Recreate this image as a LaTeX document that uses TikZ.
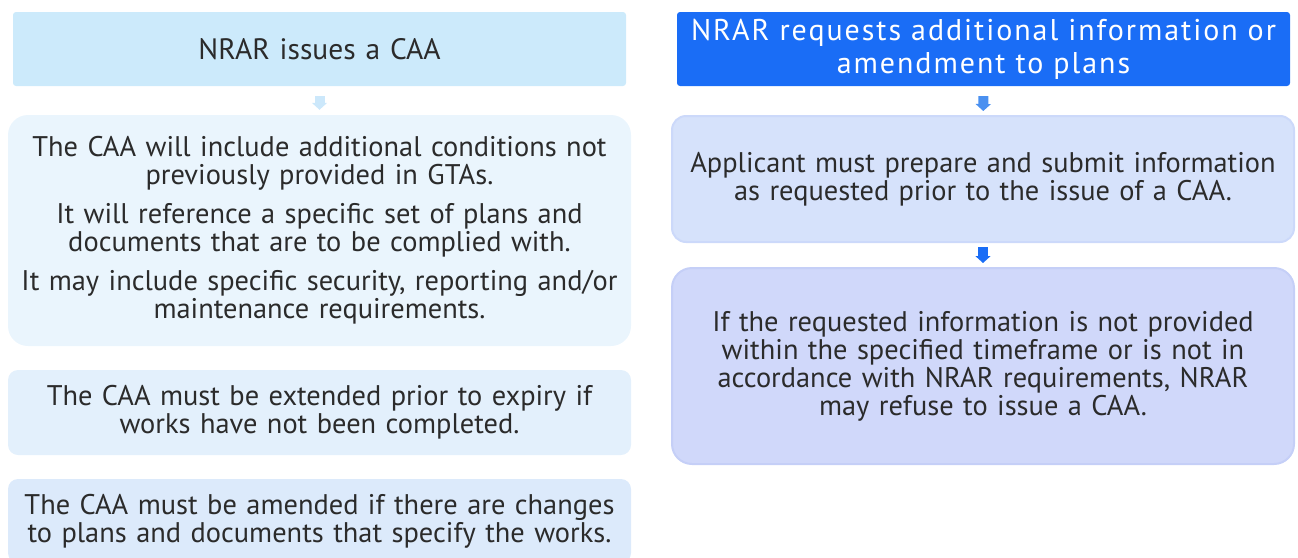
\documentclass[tikz,border=0pt]{standalone}
\usepackage{fontspec}
\setmainfont{PT Sans}
\usetikzlibrary{arrows.meta}
\definecolor{caahead}{HTML}{CCEAFB}
\definecolor{caabody}{HTML}{EAF5FD}
\definecolor{caaext}{HTML}{E3F0FC}
\definecolor{caaamend}{HTML}{DCEAFB}
\definecolor{reqhead}{HTML}{1A6DF6}
\definecolor{reqbody}{HTML}{D6E2FB}
\definecolor{reqbodyline}{HTML}{CCD9FA}
\definecolor{refbody}{HTML}{D0D8FA}
\definecolor{refbodyline}{HTML}{C5CFF7}
\definecolor{inktext}{HTML}{2B2B2B}
\definecolor{arrowlight}{HTML}{CCE8FB}
\definecolor{arrowmid}{HTML}{4A90F0}
\begin{document}
\begin{tikzpicture}[x=1pt, y=-1pt]
    \tikzstyle{box} = [align=center, text=inktext, inner sep=0pt,
                       font=\fontsize{28.4}{28}\selectfont]
    \tikzstyle{head} = [box, rounded corners=3pt, text width=610pt]
    \tikzstyle{flow} = [line width=10pt, -{Triangle[width=15pt,length=7pt]}]
    \useasboundingbox (0,0) rectangle (1298,557);
    \clip (0,0) rectangle (1298,557);
    \node[head, fill=caahead, minimum width=613pt, minimum height=74pt,
          font=\fontsize{29.5}{33}\selectfont]
        (issue) at (319.5,49) {NRAR issues a CAA};
    \node[box, fill=caabody, rounded corners=20pt, text width=620pt,
          minimum width=623pt, minimum height=231pt]
        (conditions) at (319.5,230.5)
        {The CAA will include additional conditions not\\ previously provided in GTAs.\\[11pt]
         It will reference a specific set of plans and\\ documents that are to be complied with.\\[11pt]
         It may include specific security, reporting and/or\\ maintenance requirements.};
    \node[box, fill=caaext, rounded corners=10pt, text width=620pt,
          minimum width=623pt, minimum height=85pt]
        (extend) at (319.5,412.5)
        {The CAA must be extended prior to expiry if\\ works have not been completed.};
    \node[box, fill=caaamend, rounded corners=10pt, text width=620pt,
          minimum width=623pt, minimum height=84pt]
        (amend) at (319.5,521)
        {The CAA must be amended if there are changes\\ to plans and documents that specify the works.};
    \node[head, fill=reqhead, text=white, minimum width=613pt, minimum height=74pt,
          font=\fontsize{30}{33}\selectfont\addfontfeatures{LetterSpace=6.5}]
        (request) at (983.5,49) {NRAR requests additional information or\\ amendment to plans};
    \node[box, fill=reqbody, draw=reqbodyline, line width=2pt, rounded corners=14pt,
          text width=618pt, minimum width=622pt, minimum height=126pt]
        (submit) at (983,179)
        {Applicant must prepare and submit information\\ as requested prior to the issue of a CAA.};
    \node[box, fill=refbody, draw=refbodyline, line width=2pt, rounded corners=20pt,
          text width=618pt, minimum width=622pt, minimum height=196pt]
        (refuse) at (983,366)
        {If the requested information is not provided\\ within the specified timeframe or is not in\\
         accordance with NRAR requirements, NRAR\\ may refuse to issue a CAA.};
    \draw[flow, arrowlight, shorten <=10pt, shorten >=5pt] (issue) -- (conditions);
    \draw[flow, arrowmid, shorten <=10pt, shorten >=4pt] (request) -- (submit);
    \draw[flow, reqhead, shorten <=4pt, shorten >=4pt] (submit) -- (refuse);
\end{tikzpicture}
\end{document}
